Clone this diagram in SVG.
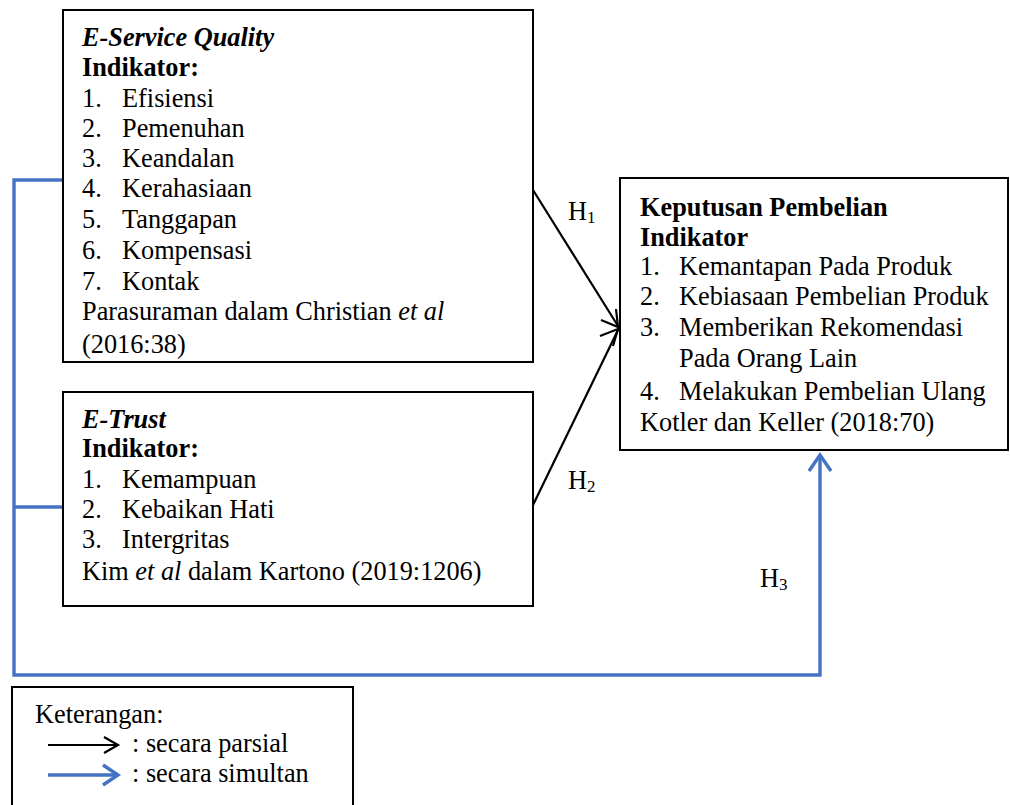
<svg xmlns="http://www.w3.org/2000/svg" width="1010" height="805" viewBox="0 0 1010 805">
<style>
text{font-family:"Liberation Serif","Times New Roman",serif;font-size:26.3px;fill:#000}
.b{font-weight:bold}
.i{font-style:italic}
.bi{font-weight:bold;font-style:italic}
.box{fill:#fff;stroke:#000;stroke-width:2}
.blk{fill:none;stroke:#000;stroke-width:2.2}
.blu{fill:none;stroke:#4472C4;stroke-width:3.4}
</style>
<rect width="1010" height="805" fill="#fff"/>
<g id="connectors">
<polyline class="blu" points="63,180 14,180 14,675 820,675 820,455"/>
<line class="blu" x1="14" y1="507" x2="63" y2="507"/>
<polyline class="blu" points="809,471 820,455 831,471"/>
<line class="blk" x1="533" y1="190" x2="618" y2="326"/>
<line class="blk" x1="533" y1="505" x2="618" y2="330"/>
<polyline class="blk" points="601,320 618,327 616,309"/>
<polyline class="blk" points="600,336 618,329 613,346"/>
<text x="568" y="220">H<tspan font-size="17" dy="3">1</tspan></text>
<text x="568" y="489">H<tspan font-size="17" dy="3">2</tspan></text>
<text x="760" y="587">H<tspan font-size="17" dy="3">3</tspan></text>
</g>
<g id="eservice">
<rect class="box" x="63" y="10" width="470" height="352"/>
<text class="bi" x="82" y="46">E-Service Quality</text>
<text class="b" x="82" y="76">Indikator:</text>
<text x="82" y="107">1.</text><text x="122" y="107">Efisiensi</text>
<text x="82" y="137">2.</text><text x="122" y="137">Pemenuhan</text>
<text x="82" y="167">3.</text><text x="122" y="167">Keandalan</text>
<text x="82" y="197">4.</text><text x="122" y="197">Kerahasiaan</text>
<text x="82" y="228">5.</text><text x="122" y="228">Tanggapan</text>
<text x="82" y="259">6.</text><text x="122" y="259">Kompensasi</text>
<text x="82" y="290">7.</text><text x="122" y="290">Kontak</text>
<text x="82" y="320">Parasuraman dalam Christian <tspan class="i">et al</tspan></text>
<text x="82" y="353">(2016:38)</text>
</g>
<g id="etrust">
<rect class="box" x="63" y="392" width="470" height="214"/>
<text class="bi" x="82" y="428">E-Trust</text>
<text class="b" x="82" y="457">Indikator:</text>
<text x="82" y="488">1.</text><text x="122" y="488">Kemampuan</text>
<text x="82" y="518">2.</text><text x="122" y="518">Kebaikan Hati</text>
<text x="82" y="548">3.</text><text x="122" y="548">Intergritas</text>
<text x="82" y="580">Kim <tspan class="i">et al</tspan> dalam Kartono (2019:1206)</text>
</g>
<g id="keputusan">
<rect class="box" x="620" y="178" width="388" height="272"/>
<text class="b" x="640" y="216">Keputusan Pembelian</text>
<text class="b" x="640" y="246">Indikator</text>
<text x="640" y="275">1.</text><text x="679" y="275">Kemantapan Pada Produk</text>
<text x="640" y="305">2.</text><text x="679" y="305">Kebiasaan Pembelian Produk</text>
<text x="640" y="336">3.</text><text x="679" y="336">Memberikan Rekomendasi</text>
<text x="679" y="367">Pada Orang Lain</text>
<text x="640" y="400">4.</text><text x="679" y="400">Melakukan Pembelian Ulang</text>
<text x="640" y="431">Kotler dan Keller (2018:70)</text>
</g>
<g id="legend">
<rect class="box" x="12" y="687" width="341" height="130"/>
<text x="35" y="723">Keterangan:</text>
<line class="blk" x1="48" y1="745" x2="117" y2="745"/>
<polyline class="blk" points="104,737 118,745 104,753"/>
<text x="132" y="752">: secara parsial</text>
<line class="blu" x1="48" y1="775" x2="116" y2="775"/>
<polyline class="blu" points="103,765 118,775 103,785"/>
<text x="132" y="782">: secara simultan</text>
</g>
</svg>
